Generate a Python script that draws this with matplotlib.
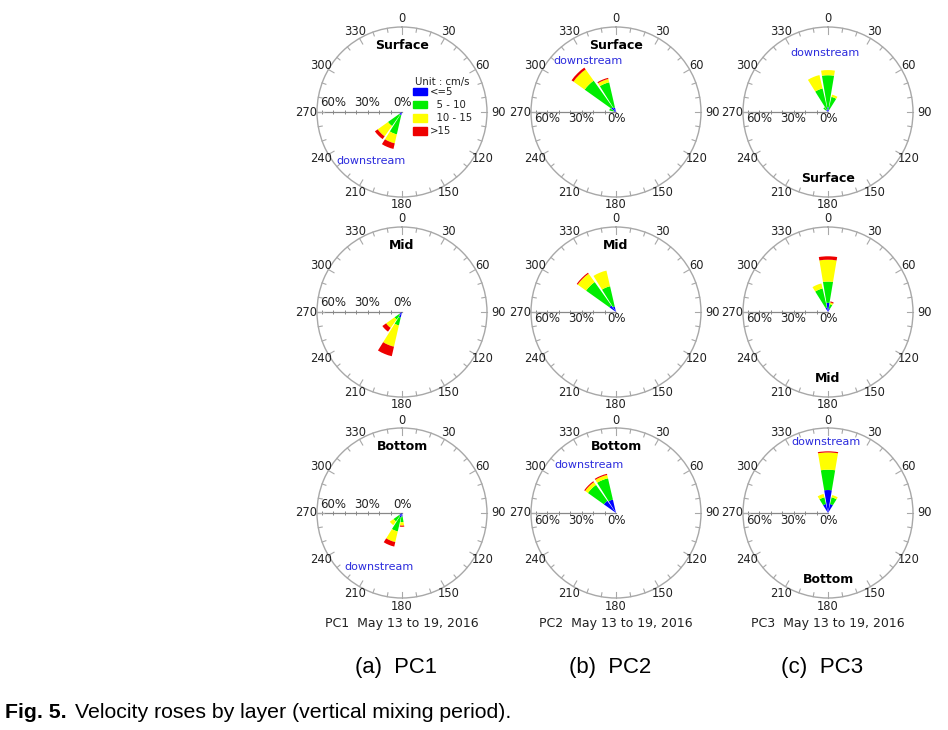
import numpy as np
import matplotlib
matplotlib.use('Agg')
import matplotlib.pyplot as plt

# speed classes (cm/s) and their colours
classes = ['<=5', '5 - 10', '10 - 15', '>15']
legend_labels = ['<=5', '  5 - 10', '  10 - 15', '>15']
class_colors = ['#0000ff', '#00ee00', '#ffff00', '#ee0000']

# compass labels and radial scale labels (%)
compass_ticks = np.arange(0, 360, 30)
scale_labels = [60, 30, 0]
rmax = 74  # outer ring in %

# frequency (%) per 22.5 deg sector, stacked by speed class
pc1_surface_dir = [202.5, 225]
pc1_surface_pct = [[3, 17, 8, 5], [3, 12, 11, 3]]
pc2_surface_dir = [292.5, 315, 337.5]
pc2_surface_pct = [[2, 4, 0, 0], [5, 28.5, 12, 2], [4, 22.5, 3, 1]]
pc3_surface_dir = [315, 337.5, 0, 22.5]
pc3_surface_pct = [[2, 3, 0, 0], [2, 19, 12, 0], [4, 28, 4.5, 0], [2, 11.5, 2, 0]]

pc1_mid_dir = [202.5, 225]
pc1_mid_pct = [[5, 7, 19, 8.5], [3, 5, 9, 4]]
pc2_mid_dir = [315, 337.5]
pc2_mid_pct = [[7, 25, 9, 1], [5, 18, 14, 0]]
pc3_mid_dir = [337.5, 0, 22.5]
pc3_mid_pct = [[4, 17, 4.5, 0], [8, 18.5, 19, 3], [3, 4, 1.5, 1]]

pc1_bottom_dir = [180, 202.5, 225]
pc1_bottom_pct = [[3, 5, 3, 1], [4, 12.5, 9.5, 4], [3, 6, 4, 0]]
pc2_bottom_dir = [315, 337.5]
pc2_bottom_pct = [[13, 17, 3, 1], [12, 19, 3, 1]]
pc3_bottom_dir = [337.5, 0, 22.5]
pc3_bottom_pct = [[8, 6, 3, 0], [20, 17.7, 15, 1], [8, 6, 2, 0]]

stations = ['PC1', 'PC2', 'PC3']
layers = ['Surface', 'Mid', 'Bottom']
period = 'May 13 to 19, 2016'
panel_letters = ['(a)', '(b)', '(c)']

roses = [
    [(pc1_surface_dir, pc1_surface_pct), (pc2_surface_dir, pc2_surface_pct), (pc3_surface_dir, pc3_surface_pct)],
    [(pc1_mid_dir, pc1_mid_pct), (pc2_mid_dir, pc2_mid_pct), (pc3_mid_dir, pc3_mid_pct)],
    [(pc1_bottom_dir, pc1_bottom_pct), (pc2_bottom_dir, pc2_bottom_pct), (pc3_bottom_dir, pc3_bottom_pct)],
]

# layout in pixels
W, H = 948, 730
R = 85
col_x = [402, 616, 828]
row_y = [112, 312, 513]
# "downstream" label, in axes fraction (None = no label)
downstream_pos = [
    [(0.32, 0.21), (0.335, 0.80), (0.48, 0.85)],
    [None, None, None],
    [(0.365, 0.18), (0.34, 0.78), (0.49, 0.92)],
]

ring_color = '#a8a8a8'
text_color = '#222222'
cap_font = 'Liberation Sans'

fig = plt.figure(figsize=(W / 100, H / 100), dpi=100)

for i, layer in enumerate(layers):
    for j, st in enumerate(stations):
        cx, cy = col_x[j], row_y[i]
        ax = fig.add_axes([(cx - R) / W, (H - cy - R) / H, 2 * R / W, 2 * R / H],
                          projection='polar')
        ax.set_theta_zero_location('N')
        ax.set_theta_direction(-1)
        ax.set_ylim(0, rmax)
        ax.grid(False)
        ax.set_xticks([])
        ax.set_yticks([])
        ax.spines['polar'].set_color(ring_color)
        ax.spines['polar'].set_linewidth(1.0)
        ax.patch.set_alpha(0)

        # ring ticks every 10 deg, longer every 30
        for d in range(0, 360, 10):
            ln = 6.5 if d % 30 == 0 else 4
            t = np.deg2rad(d)
            ax.plot([t, t], [rmax * (1 - ln / R), rmax], color=ring_color,
                    lw=0.8, clip_on=False)
        for d in compass_ticks:
            rl = 96 if d in (90, 270) else 93
            ax.text(np.deg2rad(d), rmax * rl / R, str(d), ha='center', va='center',
                    fontsize=8.3, color=text_color, clip_on=False)

        # radial scale along 270
        t270 = np.deg2rad(270)
        ax.plot([t270, t270], [0, rmax], color='#888888', lw=0.9, zorder=1)
        ax.plot([t270] * 7, np.arange(10, 71, 10), ls='none', marker='|',
                ms=3, mew=0.7, color='#888888', zorder=1)
        dy = 9 if j == 0 else -7
        for s in scale_labels:
            ax.annotate('%d%%' % s, xy=(t270, s), xytext=(0, dy),
                        textcoords='offset pixels', ha='center', va='center',
                        fontsize=8.5, color=text_color, annotation_clip=False)

        # stacked bars
        dirs, pct = roses[i][j]
        theta = np.deg2rad(dirs)
        vals = np.array(pct, dtype=float)
        bottom = np.zeros(len(dirs))
        for k in range(len(classes)):
            ax.bar(theta, vals[:, k], width=np.deg2rad(19), bottom=bottom,
                   color=class_colors[k], edgecolor='none', lw=0, zorder=3)
            bottom += vals[:, k]

        # layer title
        ty = 0.89 if j < 2 else 0.11
        ax.text(0.5, ty, layer, transform=ax.transAxes, ha='center',
                va='center', fontsize=9, fontweight='bold', color='black')

        if downstream_pos[i][j] is not None:
            ax.text(*downstream_pos[i][j], 'downstream', transform=ax.transAxes,
                    ha='center', va='center', fontsize=8, color='#2b2bdd')

        # legend in the first rose
        if i == 0 and j == 0:
            ax.text(0.576, 0.676, 'Unit : cm/s', transform=ax.transAxes,
                    ha='left', va='center', fontsize=7.3, color=text_color)
            for k, lab in enumerate(legend_labels):
                yk = 0.62 - 0.078 * k
                ax.add_patch(plt.Rectangle((0.565, yk - 0.021), 0.082, 0.044,
                                           transform=ax.transAxes,
                                           color=class_colors[k], clip_on=False))
                ax.text(0.665, yk, lab, transform=ax.transAxes, ha='left',
                        va='center', fontsize=7.3, color=text_color)

renderer = fig.canvas.get_renderer()


def width_px(t):
    return t.get_window_extent(renderer).width


for j, st in enumerate(stations):
    fig.text(col_x[j] / W, 1 - 623 / H, st + '  ' + period, ha='center',
             va='center', fontsize=9, color=text_color)
    sub = fig.text((col_x[j] - 6) / W, 1 - 667 / H, panel_letters[j] + '  ' + st,
                   ha='center', va='center', fontsize=15, family=cap_font)
    sub.set_fontsize(15 * 82 / width_px(sub))

# figure caption: bold label + text, scaled to the reference line length
fig_lab = fig.text(5 / W, 1 - 712 / H, 'Fig. 5.', ha='left', va='center',
                   fontsize=15, fontweight='bold', family=cap_font)
cap = fig.text(0, 1 - 712 / H, 'Velocity roses by layer (vertical mixing period).',
               ha='left', va='center', fontsize=15, family=cap_font)
gap = 8
f = (508 - gap) / (width_px(fig_lab) + width_px(cap))
fig_lab.set_fontsize(15 * f)
cap.set_fontsize(15 * f)
cap.set_x((5 + width_px(fig_lab) + gap) / W)

fig.savefig('out.png', dpi=100)
